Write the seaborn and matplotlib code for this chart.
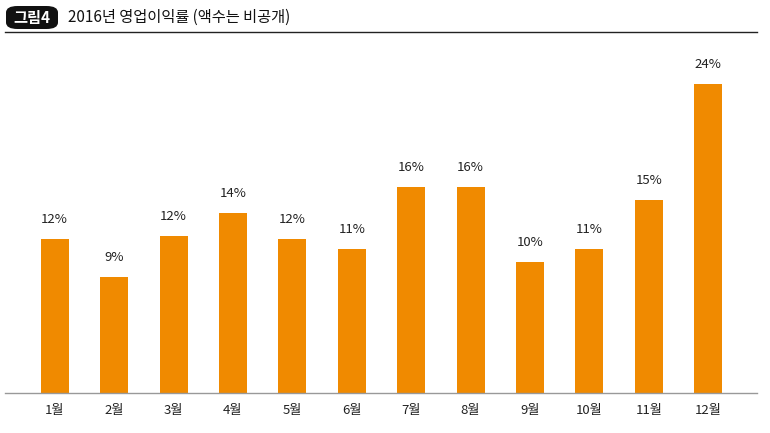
import matplotlib
matplotlib.use("Agg")
import matplotlib.pyplot as plt
import seaborn as sns
import pandas as pd
from matplotlib.patches import FancyBboxPatch
from matplotlib.lines import Line2D

months = ["1월","2월","3월","4월","5월","6월","7월","8월","9월","10월","11월","12월"]
values = [12, 9, 12.2, 14, 12, 11.2, 16, 16, 10.2, 11.2, 15, 24]
labels = ["12%","9%","12%","14%","12%","11%","16%","16%","10%","11%","15%","24%"]

plt.rcParams["font.family"] = "Noto Sans CJK KR"
W, H = 770, 433
fig = plt.figure(figsize=(W/100, H/100), dpi=100)
ax = fig.add_axes([25/W, 40/H, 713/W, 348/H])
df = pd.DataFrame({"m": months, "v": values})
sns.barplot(data=df, x="m", y="v", color="#F08A00", saturation=1, width=0.47, ax=ax)
ax.set_xlim(-0.5, 11.5)
ax.set_ylim(0, 27.03)
for i, (v, l) in enumerate(zip(values, labels)):
    ax.text(i, v + 1.0, l, ha="center", va="bottom", fontsize=9.5, color="#222")
ax.set_xlabel(""); ax.set_ylabel("")
ax.set_yticks([])
ax.tick_params(axis="x", length=0, labelsize=9.5, pad=8, colors="#222")
for s in ax.spines.values():
    s.set_visible(False)
fig.add_artist(Line2D([5/W, 757/W], [1-393/H, 1-393/H], color="#999", lw=1))
fig.add_artist(Line2D([5/W, 757/W], [1-32/H, 1-32/H], color="#222", lw=1))
fig.add_artist(FancyBboxPatch((6/W, 1-29/H), 52/W, 23/H, boxstyle="round,pad=0,rounding_size=0.015",
                              transform=fig.transFigure, fc="#111", ec="none"))
fig.text(32/W, 1-17.5/H, "그림4", color="white", fontsize=11, fontweight="bold", ha="center", va="center")
fig.text(68/W, 1-17.5/H, "2016년 영업이익률 (액수는 비공개)", color="#111", fontsize=11, ha="left", va="center")
fig.savefig("out.png", dpi=100, facecolor="white")
